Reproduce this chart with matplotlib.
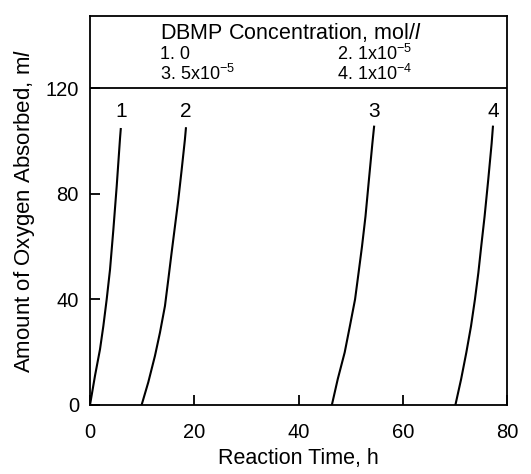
import matplotlib
matplotlib.use("Agg")
import matplotlib.pyplot as plt

plt.rcParams['font.family'] = ['Liberation Sans', 'DejaVu Sans']
plt.rcParams['mathtext.fontset'] = 'custom'
plt.rcParams['mathtext.rm'] = 'Liberation Sans'
plt.rcParams['mathtext.it'] = 'Liberation Sans:italic'

# данные кривых (время, ч / объём O2, мл)
t1 = [0.0, 0.96, 1.92, 2.56, 3.2, 3.84, 4.48, 5.12, 5.76, 5.9]
v1 = [0, 11.1, 21.1, 29.9, 40, 51.3, 66.4, 82.8, 101, 104.5]
t2 = [9.9, 11.18, 12.46, 13.42, 14.38, 15.02, 15.65, 16.3, 16.94, 17.58, 18.2, 18.4]
v2 = [0, 8.6, 18.6, 27.4, 37.5, 47.5, 57.6, 67.7, 77.7, 89, 100.4, 104.8]
t3 = [46.4, 47.53, 48.86, 49.86, 50.85, 51.52, 52.18, 52.85, 53.51, 54.17, 54.5]
v3 = [0, 9.8, 19.9, 29.9, 40, 50, 60, 71.4, 85.3, 99, 105.4]
t4 = [70.1, 71.2, 72.2, 73.1, 73.85, 74.5, 75.05, 75.7, 76.4, 77.05, 77.3]
v4 = [0, 9.8, 19.9, 29.9, 40, 50, 60, 71.4, 85.3, 99, 105.4]

curves = [(t1, v1, "1"), (t2, v2, "2"), (t3, v3, "3"), (t4, v4, "4")]

legend_title = r"DBMP Concentration, mol/$\it{l}$"
legend_items = ["1. 0", r"2. 1x10$^{-5}$", r"3. 5x10$^{-5}$", r"4. 1x10$^{-4}$"]

fig = plt.figure(figsize=(5.31, 4.74), dpi=100)
ax = fig.add_axes([0.1695, 0.1456, 0.7853, 0.8206])

for t, v, name in curves:
    ax.plot(t, v, color="black", linewidth=1.5)
    ax.text(t[-1], 111, name, ha="center", va="center", fontsize=15)

# линия, отделяющая легенду
ax.axhline(120, color="black", linewidth=1.3)

ax.text(13.4, 141, legend_title, ha="left", va="center", fontsize=15.5)
ax.text(13.4, 132.8, legend_items[0], ha="left", va="center", fontsize=13)
ax.text(47.4, 132.8, legend_items[1], ha="left", va="center", fontsize=13)
ax.text(13.4, 125.2, legend_items[2], ha="left", va="center", fontsize=13)
ax.text(47.4, 125.2, legend_items[3], ha="left", va="center", fontsize=13)

ax.set_xlim(0, 80)
ax.set_ylim(0, 147.3)
ax.set_xticks([0, 20, 40, 60, 80])
ax.set_yticks([0, 40, 80, 120])
ax.tick_params(direction="in", length=7.5, width=1.3, labelsize=14.5, pad=8)
ax.tick_params(axis="x", pad=13)
for s in ax.spines.values():
    s.set_linewidth(1.3)
ax.set_xlabel("Reaction Time, h", fontsize=15.5, labelpad=4)
ax.set_ylabel(r"Amount of Oxygen Absorbed, m$\it{l}$", fontsize=16, labelpad=6)

fig.savefig("out.png", dpi=100)
